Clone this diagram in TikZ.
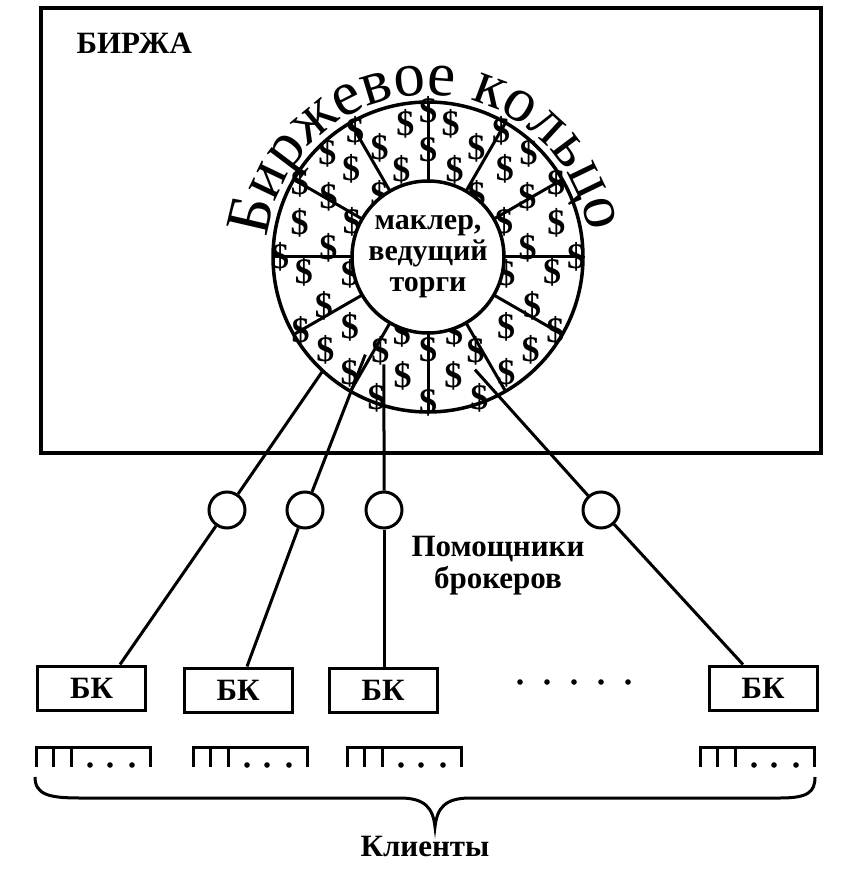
\documentclass[tikz,border=0pt]{standalone}
\usepackage{fontspec}
\setmainfont{Liberation Serif}
\usetikzlibrary{decorations.text}

\begin{document}
\begin{tikzpicture}[x=1pt,y=1pt,
    bk/.style={draw,line width=3pt,minimum width=108pt,minimum height=44pt,
      inner sep=0pt,font=\fontsize{31}{31}\selectfont\bfseries},
    helper/.style={draw,circle,line width=3pt,minimum size=36pt,inner sep=0pt},
    wire/.style={line width=3pt},
    dollar/.style={font=\fontsize{36}{36}\selectfont\bfseries,inner sep=0pt},
    label/.style={font=\fontsize{31}{32}\selectfont\bfseries,align=center}]
  \useasboundingbox (0,0) rectangle (846,-882);
  \draw[line width=3.5pt] (41,-8) rectangle (821,-453);
  \node[label,anchor=west] (birzha) at (73,-43) {БИРЖА};
  \begin{scope}[shift={(428,-257)}]
    \foreach \a/\r in {99.6/135,80.4/135,90/107,90/146,107/91,73/91,114/119,66/119,
        131/117,49/117,134/145,46/145,120/146,60/146,128/79,52/79,149/116,31/116,
        150/148,30/148,165/133,15/133,155/84,25/84,175/100,5/100,180/148,0/148,
        258/122,282/122,270/93,270/145,243/105,297/105,236/140,304/140,222/138,
        318/138,222/105,318/105,205/115,335/115,210/147,330/147,187/125,353/125,
        192/80,348/80,251/80,289/80,250/150,290/150}
      \node[dollar] at (\a:\r) {\$};
    \foreach \a in {0,30,...,330}
      \draw[line width=3pt] (\a:76) -- (\a:155);
    \draw[line width=3.5pt] (0,0) circle[radius=155];
    \node[draw,circle,line width=3.5pt,fill=white,minimum size=152pt,inner sep=0pt,
      align=center,font=\fontsize{30}{31}\selectfont\bfseries] (makler) at (0,0)
      {маклер,\\ведущий\\торги};
    \path[decorate,decoration={text along path,text align=center,
      text={|\fontsize{63}{63}\selectfont|Биржевое кольцо}}]
      (176:162) arc[start angle=176,end angle=6,radius=162];
    \coordinate (rA) at (227.3:156);
    \coordinate (rB) at (237.3:116);
    \coordinate (rC) at (247.7:116);
    \coordinate (rD) at (292.6:122);
  \end{scope}
  \node[helper] (pA) at (227,-510) {};
  \node[helper] (pB) at (305,-510) {};
  \node[helper] (pC) at (384,-510) {};
  \node[helper] (pD) at (601,-510) {};
  \node[label] (pomlabel) at (498,-566) {Помощники\\брокеров};
  \node[bk] (bk1) at (91.5,-688) {БК};
  \node[bk] (bk2) at (238,-690) {БК};
  \node[bk] (bk3) at (383,-690) {БК};
  \node[bk] (bk4) at (763,-688) {БК};
  \draw[wire] (rA) -- (pA);
  \draw[wire] (pA) -- ([xshift=28.5pt]bk1.north);
  \draw[wire] (rB) -- (pB);
  \draw[wire] (pB) -- ([xshift=9pt]bk2.north);
  \draw[wire] (rC) -- (pC);
  \draw[wire] (pC) -- ([xshift=1pt]bk3.north);
  \draw[wire] (rD) -- (pD);
  \draw[wire] (pD) -- ([xshift=-20pt]bk4.north);
  \foreach \x in {520,547,574,601,628}
    \fill (\x,-682) circle[radius=2.8];
  \foreach \x in {36,193,347,700} {
    \draw[wire] (\x,-767) -- (\x,-747) -- ++(114,0) -- ++(0,-20);
    \draw[wire] (\x+17,-747) -- ++(0,-20);
    \draw[wire] (\x+35,-747) -- ++(0,-20);
    \foreach \d in {54,74,96}
      \fill (\x+\d,-765) circle[radius=2.8];
  }
  \draw[wire] (35,-777) .. controls (35,-795) and (50,-798) .. (80,-798) -- (400,-798)
    .. controls (425,-798) and (433,-808) .. (435,-827)
    .. controls (437,-808) and (445,-798) .. (470,-798) -- (780,-798)
    .. controls (808,-798) and (815,-792) .. (815,-777);
  \node[label] (klienty) at (425,-846) {Клиенты};
\end{tikzpicture}
\end{document}
